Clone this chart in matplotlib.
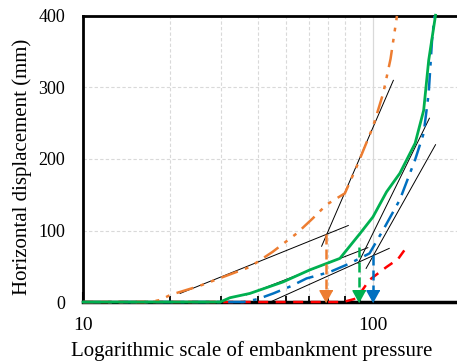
import numpy as np
import matplotlib
matplotlib.use("Agg")
import matplotlib.pyplot as plt

# ---- series (pressure, displacement in mm) ----
orange_x = [10, 16.5, 17.5, 18.5, 20, 25, 30.4, 37.6, 45, 54.6, 62, 69.1, 75, 80, 87.8, 100, 108.5, 115, 121]
orange_y = [0, 0, 1, 3, 10, 22, 35, 49, 70, 96, 117, 136, 145, 152, 189, 245, 292, 340, 400]

green_x = [10, 29.7, 32.1, 37.6, 48.9, 60.6, 76.9, 90.3, 100, 111.4, 123.8, 139.8, 149.6, 155.7, 164.4]
green_y = [0, 0, 6, 12, 28, 45, 61, 96, 119, 154, 180, 222, 268, 338, 401]

blue_x = [10, 35.7, 40, 45.3, 52, 59, 71, 83.2, 97.3, 108.5, 123.8, 139.8, 149.6, 155.7, 159.9, 163]
blue_y = [0, 0, 4, 12, 22, 33, 42, 54, 68, 101, 143, 199, 236, 292, 366, 400]

red_x = [10, 78.8, 87.8, 97.3, 111.4, 122, 130.8]
red_y = [0, 0, 5, 31, 49, 60, 77]

# tangent lines (start/end points)
tangents = [
    ([21.6, 82.2], [12, 107]),    # orange, lower
    ([66.5, 117.6], [78, 310]),   # orange, upper
    ([36.6, 96.0], [10, 76]),     # green, lower
    ([88.9, 156.6], [54, 257]),   # green, upper
    ([44.2, 113.8], [0, 75]),     # blue, lower
    ([94.7, 164.4], [47, 220]),   # blue, upper
]

# arrows marking the yield pressure
arrow_x = [69.1, 89.4, 100]
arrow_top = [95, 77, 66]
arrow_colors = ["#ED7D31", "#00B050", "#0070C0"]

plt.rcParams["font.family"] = ["Liberation Serif", "DejaVu Serif"]

fig = plt.figure(figsize=(4.57, 3.63), dpi=100)
ax = fig.add_axes([0.182, 0.168, 0.825, 0.788])

ax.set_xscale("log")
ax.set_xlim(10, 200)
ax.set_ylim(0, 400)

# grid
ax.set_yticks([0, 100, 200, 300, 400])
ax.set_xticks([10, 100])
ax.set_xticks([20, 30, 40, 50, 60, 70, 80, 90], minor=True)
ax.set_xticklabels(["10", "100"])
ax.grid(True, which="minor", axis="x", color="#d9d9d9", linestyle=(0, (3, 2)), linewidth=0.8)
ax.grid(True, which="major", axis="x", color="#d9d9d9", linestyle="-", linewidth=0.9)
ax.grid(True, which="major", axis="y", color="#d9d9d9", linestyle=(0, (3, 2)), linewidth=0.8)
ax.set_axisbelow(True)

for xs, ys in tangents:
    ax.plot(xs, ys, color="black", linewidth=0.7, zorder=3)

ax.plot(red_x, red_y, color="#FF0000", linewidth=1.8, linestyle=(0, (4, 3)), zorder=4, clip_on=False)
ax.plot(blue_x, blue_y, color="#0070C0", linewidth=1.8, linestyle=(0, (7, 3, 1.5, 3)),
        zorder=4, clip_on=False)
ax.plot(orange_x, orange_y, color="#ED7D31", linewidth=1.8,
        linestyle=(0, (7, 3, 1.5, 3, 1.5, 3)), zorder=4, clip_on=False)
ax.plot(green_x, green_y, color="#00B050", linewidth=2.0, zorder=5, clip_on=False)

head = [(0, 0), (-0.55, 1), (0.55, 1)]
for x, top, c in zip(arrow_x, arrow_top, arrow_colors):
    ax.plot([x, x], [top, 12], color=c, linewidth=1.8, linestyle=(0, (4, 2)), zorder=6)
    ax.plot([x], [0], marker=head, markersize=17, color=c, linestyle="none",
            clip_on=False, zorder=7)

for side in ["left", "bottom", "top"]:
    ax.spines[side].set_color("black")
ax.spines["left"].set_linewidth(2.0)
ax.spines["bottom"].set_linewidth(2.5)
ax.spines["top"].set_linewidth(2.0)
ax.spines["right"].set_visible(False)

ax.tick_params(axis="y", length=0, labelsize=13, pad=13)
ax.tick_params(axis="x", which="major", direction="in", length=7, width=1.5, labelsize=14, pad=11)
ax.tick_params(axis="x", which="minor", direction="in", length=4, width=1.3)

ax.set_xlabel("Logarithmic scale of embankment pressure", fontsize=15, labelpad=4)
ax.xaxis.set_label_coords(0.448, -0.135)
ax.set_ylabel("Horizontal displacement (mm)", fontsize=15)
ax.yaxis.set_label_coords(-0.137, 0.472)

fig.savefig("out.png", dpi=100)
